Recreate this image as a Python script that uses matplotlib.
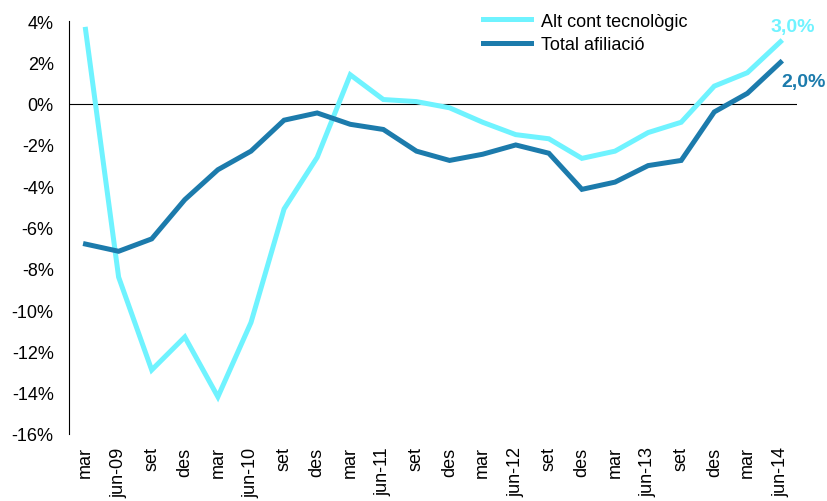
import matplotlib
matplotlib.use("Agg")
import matplotlib.pyplot as plt
from matplotlib.ticker import FuncFormatter

plt.rcParams['font.family'] = ['Liberation Sans', 'DejaVu Sans']

categories = ["mar", "jun-09", "set", "des", "mar", "jun-10", "set", "des",
              "mar", "jun-11", "set", "des", "mar", "jun-12", "set", "des",
              "mar", "jun-13", "set", "des", "mar", "jun-14"]
alt_cont = [3.6, -8.4, -12.9, -11.3, -14.2, -10.6, -5.1, -2.6,
            1.4, 0.2, 0.1, -0.2, -0.9, -1.5, -1.7, -2.65,
            -2.3, -1.4, -0.9, 0.85, 1.5, 3.0]
total_afil = [-6.8, -7.15, -6.55, -4.65, -3.2, -2.3, -0.8, -0.45,
              -1.0, -1.25, -2.3, -2.75, -2.45, -2.0, -2.4, -4.15,
              -3.8, -3.0, -2.75, -0.4, 0.5, 2.0]
yticks = [4, 2, 0, -2, -4, -6, -8, -10, -12, -14, -16]

c_light = '#6FF3FF'
c_dark = '#1C7BAC'

fig = plt.figure(figsize=(8.28, 5.02), dpi=100)
ax = fig.add_axes([0.0833, 0.1335, 0.8793, 0.8225])

x = list(range(len(categories)))
ax.plot(x, alt_cont, color=c_light, lw=3.6, label='Alt cont tecnològic', solid_joinstyle='miter')
ax.plot(x, total_afil, color=c_dark, lw=3.6, label='Total afiliació', solid_joinstyle='miter')
ax.axhline(0, color='black', lw=0.8, zorder=0)

ax.set_xlim(-0.5, len(categories) - 0.5)
ax.set_ylim(-16, 4)
ax.set_yticks(yticks)
ax.yaxis.set_major_formatter(FuncFormatter(lambda v, p: f"{int(v)}%"))
ax.set_xticks(x)
ax.set_xticklabels(categories, rotation=90)
ax.tick_params(axis='x', length=0, pad=9, labelsize=13)
ax.tick_params(axis='y', length=0, pad=11, labelsize=13)

for s in ['top', 'right', 'bottom']:
    ax.spines[s].set_visible(False)
ax.spines['left'].set_linewidth(0.8)

ax.annotate(f"{alt_cont[-1]:.1f}%".replace('.', ','), (x[-1], alt_cont[-1]),
            xytext=(-7, 5), textcoords='offset points', color=c_light,
            fontsize=14, fontweight='bold', ha='left', va='bottom')
ax.annotate(f"{total_afil[-1]:.1f}%".replace('.', ','), (x[-1], total_afil[-1]),
            xytext=(0.7, -8), textcoords='offset points', color=c_dark,
            fontsize=14, fontweight='bold', ha='left', va='top')

leg = ax.legend(loc='upper left', bbox_to_anchor=(0.546, 1.06), frameon=False,
                fontsize=13, handlelength=2.7, handletextpad=0.5, labelspacing=0.35)

fig.savefig('out.png', dpi=100)
